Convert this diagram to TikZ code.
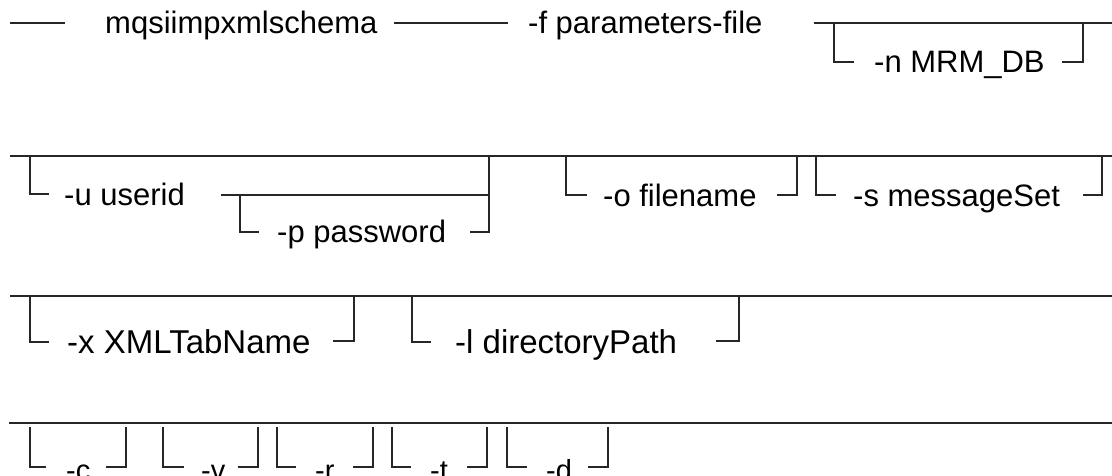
\documentclass[tikz,border=0pt]{standalone}
\usepackage{fontspec}
\setmainfont{Liberation Sans}
\begin{document}
\begin{tikzpicture}[x=1pt,y=-1pt,
  rr/.style={line width=1.1pt, black!85, line cap=rect},
  lbl/.style={anchor=base west, inner sep=0pt, font=\fontsize{31}{36}\selectfont},
  lblthree/.style={anchor=base west, inner sep=0pt, font=\fontsize{33}{38}\selectfont},
  lblfour/.style={anchor=base west, inner sep=0pt, font=\fontsize{29}{34}\selectfont}]
\useasboundingbox (0,0) rectangle (1112,475);
\clip (0,0) rectangle (1112,475);
% Row 1
\draw[rr] (11,23) -- (64,23);
\node[lbl] (cmd) at (105,33) {mqsiimpxmlschema};
\draw[rr] (395,23) -- (507,23);
\node[lbl] (f) at (528,33) {-f parameters-file};
\draw[rr] (815,23) -- (1112,23);
\draw[rr] (834,23) |- (853,62);
\node[lbl] (n) at (874,72) {-n MRM\_DB};
\draw[rr] (1063,62) -| (1083,23);
% Row 2
\draw[rr] (11,156) -- (1112,156);
\draw[rr] (30,156) |- (48,194);
\node[lbl] (u) at (64,205) {-u userid};
\draw[rr] (222,195) -- (489,195);
\draw[rr] (240,195) |- (258,232);
\node[lbl] (p) at (277,242) {-p password};
\draw[rr] (471,232) -| (489,156);
\draw[rr] (566,156) |- (586,195);
\node[lbl] (o) at (603,206) {-o filename};
\draw[rr] (778,195) -| (797,156);
\draw[rr] (816,156) |- (835,195);
\node[lbl] (s) at (853,206) {-s messageSet};
\draw[rr] (1084,195) -| (1102,156);
% Row 3
\draw[rr] (11,296) -- (1112,296);
\draw[rr] (30,296) |- (48,342);
\node[lblthree] (x) at (67,353) {-x XMLTabName};
\draw[rr] (334,341) -| (354,296);
\draw[rr] (412,296) |- (430,342);
\node[lblthree] (l) at (455,353) {-l directoryPath};
\draw[rr] (717,341) -| (739,296);
% Row 4
\draw[rr] (10,423) -- (1112,423);
\draw[rr] (30,428) |- (45,467);
\node[lblfour] (c) at (66,480) {-c};
\draw[rr] (107,467) -| (126,428);
\draw[rr] (163,428) |- (183,467);
\node[lblfour] (v) at (201,480) {-v};
\draw[rr] (239,467) -| (258,428);
\draw[rr] (277,428) |- (295,467);
\node[lblfour] (r) at (315,480) {-r};
\draw[rr] (354,467) -| (373,428);
\draw[rr] (392,428) |- (410,467);
\node[lblfour] (t) at (430,480) {-t};
\draw[rr] (468,467) -| (487,428);
\draw[rr] (507,428) |- (526,467);
\node[lblfour] (d) at (546,480) {-d};
\draw[rr] (589,467) -| (608,428);
\end{tikzpicture}
\end{document}
